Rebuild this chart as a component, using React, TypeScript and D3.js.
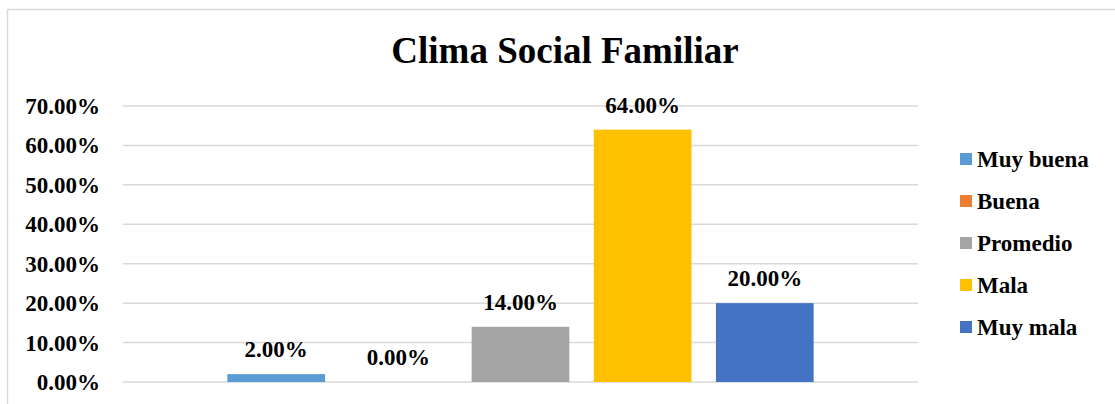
import React, { useEffect, useRef } from 'react';
import * as d3 from 'd3';

const categories = ['Muy buena', 'Buena', 'Promedio', 'Mala', 'Muy mala'];
const values = [0.02, 0.0, 0.14, 0.64, 0.2];
const colors = ['#5B9BD5', '#ED7D31', '#A5A5A5', '#FFC000', '#4472C4'];
const yTicks = [0, 0.1, 0.2, 0.3, 0.4, 0.5, 0.6, 0.7];

const W = 1115;
const H = 404;

export default function App() {
  const svgRef = useRef<SVGSVGElement>(null);

  useEffect(() => {
    if (!svgRef.current) return;
    const svg = d3.select(svgRef.current);
    svg.selectAll('*').remove();

    const font = '"Liberation Serif", "Times New Roman", serif';
    const left = 123, right = 918, top = 106, bottom = 382;

    // chart area border
    svg.append('rect')
      .attr('x', 7.5).attr('y', 9.5)
      .attr('width', 1300).attr('height', 600)
      .attr('fill', '#fff')
      .attr('stroke', '#d9d9d9')
      .attr('stroke-width', 1.5);

    svg.append('text')
      .attr('x', 565).attr('y', 63)
      .attr('text-anchor', 'middle')
      .attr('font-family', font)
      .attr('font-weight', 'bold')
      .attr('font-size', 37)
      .text('Clima Social Familiar');

    const y = d3.scaleLinear().domain([0, 0.7]).range([bottom, top]);

    // single category, one bar per series
    const x0 = d3.scaleBand().domain(['Clima Social Familiar']).range([left, right]).paddingOuter(0.178).paddingInner(0);
    const x1 = d3.scaleBand().domain(categories).range([0, x0.bandwidth()]).paddingInner(0.2);
    const gx = x0('Clima Social Familiar') || 0;

    const g = svg.append('g');

    g.selectAll('.grid')
      .data(yTicks)
      .join('line')
      .attr('x1', left).attr('x2', right)
      .attr('y1', d => y(d)).attr('y2', d => y(d))
      .attr('stroke', '#d9d9d9')
      .attr('stroke-width', 1.5);

    g.selectAll('.tick')
      .data(yTicks)
      .join('text')
      .attr('x', 100)
      .attr('y', d => y(d))
      .attr('dy', '0.35em')
      .attr('text-anchor', 'end')
      .attr('font-family', font)
      .attr('font-weight', 'bold')
      .attr('font-size', 23)
      .text(d => d3.format('.2%')(d));

    g.selectAll('.bar')
      .data(values)
      .join('rect')
      .attr('x', (d, i) => gx + (x1(categories[i]) || 0))
      .attr('y', d => y(d))
      .attr('width', x1.bandwidth())
      .attr('height', d => bottom - y(d))
      .attr('fill', (d, i) => colors[i]);

    g.selectAll('.label')
      .data(values)
      .join('text')
      .attr('x', (d, i) => gx + (x1(categories[i]) || 0) + x1.bandwidth() / 2)
      .attr('y', d => y(d) - 17)
      .attr('text-anchor', 'middle')
      .attr('font-family', font)
      .attr('font-weight', 'bold')
      .attr('font-size', 23)
      .text(d => d3.format('.2%')(d));

    // legend
    const legend = svg.append('g');
    categories.forEach((c, i) => {
      const cy = 159 + i * 42;
      legend.append('rect')
        .attr('x', 960).attr('y', cy - 6)
        .attr('width', 12).attr('height', 12)
        .attr('fill', colors[i]);
      legend.append('text')
        .attr('x', 977).attr('y', cy)
        .attr('dy', '0.35em')
        .attr('font-family', font)
        .attr('font-weight', 'bold')
        .attr('font-size', 23)
        .text(c);
    });
  }, []);

  return (
    <div style={{ position: 'absolute', left: 0, top: 0 }}>
      <svg ref={svgRef} width={W} height={H} style={{ display: 'block' }} />
    </div>
  );
}
